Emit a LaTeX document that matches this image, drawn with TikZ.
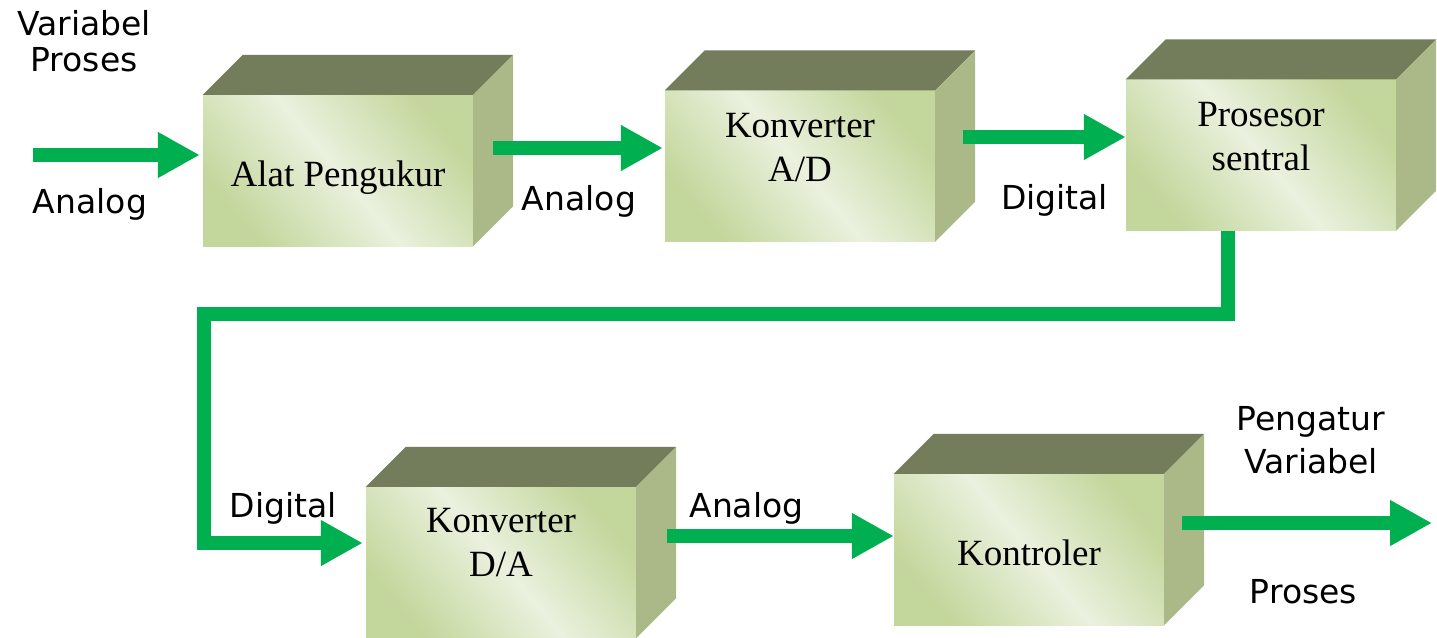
\documentclass[tikz,border=0pt]{standalone}
\usepackage{fontspec}
\setmainfont{Liberation Serif}
\newfontfamily\lblfont{DejaVu Sans}
\usetikzlibrary{arrows.meta,calc}
\definecolor{arrowgreen}{HTML}{00B050}
\definecolor{facelight}{HTML}{EAF1DE}
\definecolor{facedark}{HTML}{C3D69B}
\definecolor{facetop}{HTML}{737D5B}
\definecolor{faceside}{HTML}{AAB987}
\tikzset{
  front/.style={rectangle, inner sep=0pt, minimum width=270pt, minimum height=151pt,
    top color=facedark, bottom color=facedark, middle color=facelight, shading angle=-50},
  topface/.style={fill=facetop},
  sideface/.style={fill=faceside},
  flow/.style={draw=arrowgreen, line width=14pt, line join=miter,
    -{Triangle[length=42pt,width=43pt]}},
  boxtxt/.style={font=\fontsize{37}{44}\selectfont, anchor=base, inner sep=0pt},
  lbl/.style={font=\lblfont\fontsize{33}{36}\selectfont, anchor=base, inner sep=0pt},
}
\newcommand{\twolines}[2]{\begin{tabular}[t]{@{}c@{}}#1\\#2\end{tabular}}
\begin{document}
\begin{tikzpicture}[x=1pt,y=-1pt]
\fill[white] (0,0) rectangle (1437,637);
\useasboundingbox (0,0) rectangle (1437,637);

% front faces
\node[front] (b1) at (338,170.5) {};
\node[front] (b2) at (800,166) {};
\node[front] (b3) at (1261,155) {};
\node[front] (b4) at (501,562.5) {};
\node[front] (b5) at (1029,549.5) {};

% top and side faces
\foreach \b in {b1,b2,b3,b4,b5}{
  \fill[topface] (\b.north west) -- ++(40,-40) -- ($(\b.north east)+(40,-40)$) -- (\b.north east) -- cycle;
  \fill[sideface] (\b.north east) -- ++(40,-40) -- ($(\b.south east)+(40,-40)$) -- (\b.south east) -- cycle;
}

% connectors
\coordinate (in1) at (33,155);
\coordinate (fbc) at (204,314);
\coordinate (out) at (1432,523);
\draw[flow, shorten >=3pt] (in1) -- (in1 -| b1.west);
\draw[flow, shorten >=2pt] ($(b1.east)+(20,-22.5)$) coordinate (s2) -- (s2 -| b2.west);
\draw[flow] ($(b2.east)+(28,-29)$) coordinate (s3) -- (s3 -| b3.west);
\draw[flow, shorten >=3pt] ($(b3.south)+(-33.5,0)$) |- (fbc) |- ($(b4.west)+(0,-19.5)$);
\draw[flow] ($(b4.east)+(31,-26.5)$) coordinate (s5) -- (s5 -| b5.west);
\draw[flow] ($(b5.east)+(18,-26.5)$) -- (out);

% box texts
\node[boxtxt] (t1) at ($(b1.north)+(0,92)$) {Alat Pengukur};
\node[boxtxt] (t2) at ($(b2.north)+(0,47.5)$) {\twolines{Konverter}{A/D}};
\node[boxtxt] (t3) at ($(b3.north)+(0,47.5)$) {\twolines{Prosesor}{sentral}};
\node[boxtxt] (t4) at ($(b4.north)+(0,46)$) {\twolines{Konverter}{D/A}};
\node[boxtxt] (t5) at ($(b5.north)+(0,92)$) {Kontroler};

% signal labels
\node[lbl] (vp) at (84,35.7) {\twolines{Variabel}{Proses}};
\node[lbl] (an1) at (90,213) {Analog};
\node[lbl] (an2) at (579,210) {Analog};
\node[lbl] (dg3) at (1054.5,209) {Digital};
\node[lbl] (dg4) at (283.5,517) {Digital};
\node[lbl] (an5) at (746.5,517) {Analog};
\node[lbl, font=\lblfont\fontsize{33}{43}\selectfont] (pv) at (1311,430) {\twolines{Pengatur}{Variabel}};
\node[lbl] (pr) at (1303.5,603) {Proses};
\end{tikzpicture}
\end{document}
